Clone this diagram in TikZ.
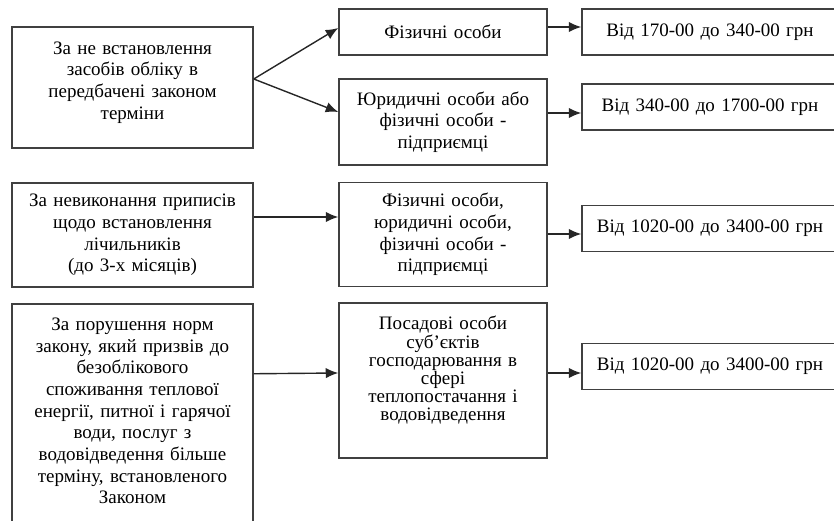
\documentclass[tikz,border=0pt]{standalone}
\usepackage{fontspec}
\setmainfont{Liberation Serif}
\usetikzlibrary{arrows.meta}

\tikzset{
  box/.style={draw=black!75, line width=1.5pt, align=center, inner sep=2pt,
    font=\fontsize{19}{21.7}\selectfont},
  leftbox/.style={box, minimum width=241pt, text width=235pt},
  midbox/.style={box, minimum width=208pt, text width=202pt},
  sumbox/.style={box, minimum width=256pt, text width=250pt, minimum height=46pt},
  arr/.style={draw=black!85, line width=1.4pt, -{Latex[length=12.5pt,width=10.5pt]}}
}

\begin{document}
\begin{tikzpicture}[x=1pt,y=-1pt]
\useasboundingbox (0,0) rectangle (834,521);
% first row
\node[leftbox, minimum height=121pt] (l1) at (132.5,87.5) {};
\node[box, draw=none, text width=235pt] (l1text) at ([yshift=5pt]l1.center) {За не встановлення\\засобів обліку в\\передбачені законом\\терміни};
\node[midbox, minimum height=46pt] (m1) at (443,32) {Фізичні особи};
\node[midbox, minimum height=86pt] (m2) at (443,122) {Юридичні особи або\\фізичні особи -\\підприємці};
\node[sumbox] (r1) at (710,32) {Від 170-00 до 340-00 грн};
\node[sumbox] (r2) at (710,107) {Від 340-00 до 1700-00 грн};
\draw[arr] ([yshift=8.5pt]l1.east) -- ([yshift=4pt]m1.west);
\draw[arr] ([yshift=8.5pt]l1.east) -- ([yshift=10pt]m2.west);
\draw[arr] ([yshift=5pt]m1.east) -- ([yshift=5pt]r1.west);
\draw[arr] ([yshift=9pt]m2.east) -- ([yshift=-6pt]r2.west);
% second row
\node[leftbox, minimum height=104pt] (l2) at (132.5,235) {За невиконання приписів\\щодо встановлення\\лічильників\\(до 3-х місяців)};
\node[midbox, minimum height=104pt] (m3) at (443,234.5) {Фізичні особи,\\юридичні особи,\\фізичні особи -\\підприємці};
\node[sumbox] (r3) at (710,228.5) {Від 1020-00 до 3400-00 грн};
\draw[arr] ([yshift=18pt]l2.east) -- ([yshift=17.5pt]m3.west);
\draw[arr] ([yshift=0.5pt]m3.east) -- ([yshift=-5.5pt]r3.west);
% third row
\node[leftbox, minimum height=240pt, anchor=north] (l3) at (132.5,303) {};
\node[box, draw=none, text width=235pt, anchor=north] (l3text) at ([yshift=-12pt]l3.north) {За порушення норм\\закону, який призвів до\\безоблікового\\споживання теплової\\енергії, питної і гарячої\\води, послуг з\\водовідведення більше\\терміну, встановленого\\Законом};
\node[midbox, minimum height=155pt] (m4) at (443,380.5) {};
\node[box, draw=none, text width=202pt, font=\fontsize{19}{18.2}\selectfont] (m4text) at ([yshift=10pt]m4.center) {Посадові особи\\суб’єктів\\господарювання в\\сфері\\теплопостачання і\\водовідведення};
\node[sumbox] (r4) at (710,366.5) {Від 1020-00 до 3400-00 грн};
\draw[arr] ([yshift=50pt]l3.east) -- ([yshift=7.5pt]m4.west);
\draw[arr] ([yshift=7.5pt]m4.east) -- ([yshift=-6.5pt]r4.west);
\end{tikzpicture}
\end{document}
